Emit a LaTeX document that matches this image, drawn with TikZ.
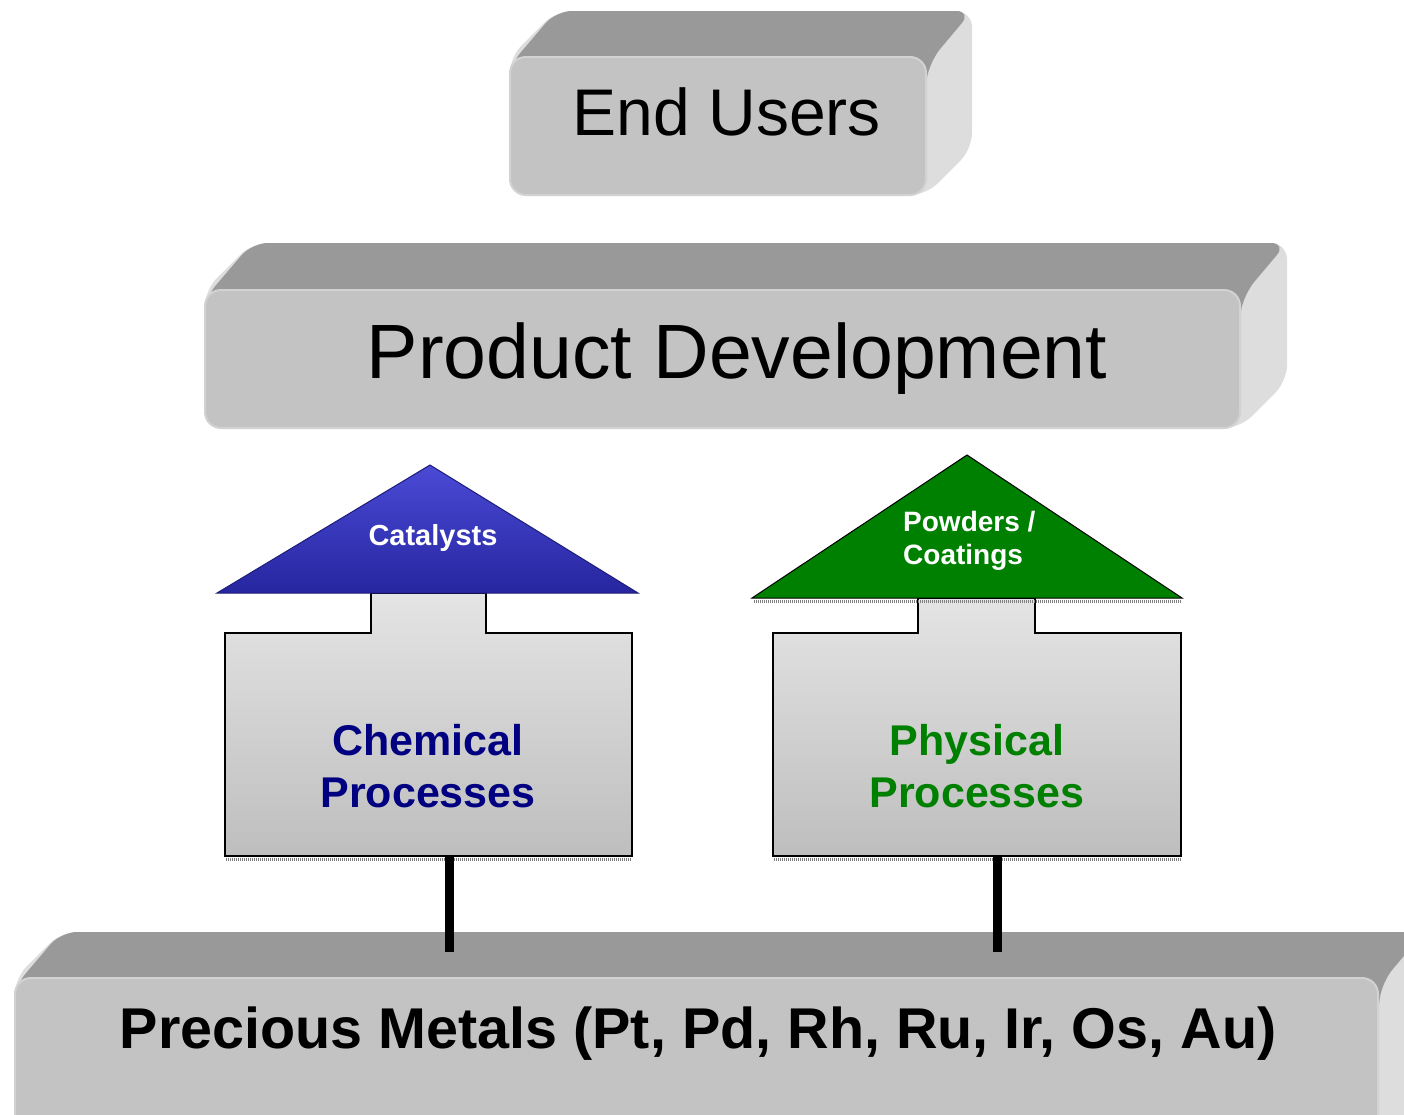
\documentclass[tikz,border=0pt]{standalone}
\usepackage{fontspec}
\setmainfont{Liberation Sans}
\usepackage{tikz}
\usetikzlibrary{calc}

\definecolor{slabtop}{HTML}{999999}
\definecolor{slabside}{HTML}{DDDDDD}
\definecolor{slabfront}{HTML}{C3C3C3}
\definecolor{slabedge}{HTML}{D2D2D2}
\definecolor{boxtop}{HTML}{E4E4E4}
\definecolor{boxbot}{HTML}{BEBEBE}
\definecolor{navyblue}{HTML}{000080}
\definecolor{leafgreen}{HTML}{008000}
\definecolor{roofblue}{HTML}{2626A0}
\definecolor{roofhigh}{HTML}{4A4AD6}
\definecolor{roofedge}{HTML}{1C1C78}

\newcommand{\slab}[5]{%
\fill[slabside,rounded corners=16] (#1,#2) -- ({#1+#5},{#2-#5}) -- ({#3+#5},{#2-#5}) -- ({#3+#5},{#4-#5}) -- (#3,#4) -- (#1,#4) -- cycle;
\fill[slabtop,rounded corners=16] (#1,#4) -- (#1,{#2+8}) -- ({#1+#5},{#2-#5}) -- ({#3+#5},{#2-#5}) -- ({#3+4},{#2+4}) -- ({#3-20},#4) -- cycle;
\filldraw[fill=slabfront,draw=slabedge,line width=2,rounded corners=16] (#1,#2) rectangle (#3,#4);
}

\begin{document}
\begin{tikzpicture}[x=1pt,y=-1pt,
  lab/.style={inner sep=0pt,anchor=base},
  twolines/.style={inner sep=0pt,align=center,font=\bfseries\fontsize{43}{52}\selectfont},
  procbox/.style={draw=black,line width=2,top color=boxtop,bottom color=boxbot},
  hatch/.style={line width=3,draw=gray,dash pattern=on 1pt off 1pt},
  link/.style={line width=9,draw=black}]
\useasboundingbox (0,0) rectangle (1404,1114);
\clip (0,0) rectangle (1404,1114);
\slab{510}{57}{926}{195}{46}
\slab{205}{290}{1240}{428}{47}
\slab{15}{978}{1378}{1160}{46}
\node[lab,font=\fontsize{66}{78}\selectfont] (users) at (727,135) {End Users};
\node[lab,font=\fontsize{77}{90}\selectfont] (devel) at (737,378) {Product Development};
\node[lab,font=\bfseries\fontsize{57.5}{70}\selectfont] (metals) at (698,1048) {Precious Metals (Pt, Pd, Rh, Ru, Ir, Os, Au)};
\shade[procbox] (225,633) -- (371,633) -- (371,593) -- (486,593) -- (486,633) -- (632,633) -- (632,856) -- (225,856) -- cycle;
\shade[procbox] (773,633) -- (918,633) -- (918,598) -- (1035,598) -- (1035,633) -- (1181,633) -- (1181,856) -- (773,856) -- cycle;
\draw[hatch] (226,859) -- (632,859);
\draw[hatch] (774,859) -- (1181,859);
\draw[hatch] (754,601) -- (1181,601);
\shade[top color=roofhigh,bottom color=roofblue,draw=roofedge,line width=1] (217,593) -- (430,465) -- (638,593) -- cycle;
\filldraw[fill=leafgreen,draw=black,line width=1] (752,598) -- (967,455) -- (1182,598) -- cycle;
\node[lab,text=white,font=\bfseries\fontsize{29}{33}\selectfont] (cat) at (433,545) {Catalysts};
\node[inner sep=0pt,anchor=west,align=left,text=white,font=\bfseries\fontsize{28}{33}\selectfont] (powd) at (903,541) {Powders /\\Coatings};
\node[twolines,text=navyblue] (chem) at (428,766) {Chemical\\Processes};
\node[twolines,text=leafgreen] (phys) at (977,766) {Physical\\Processes};
\coordinate (chemfoot) at (449,857);
\coordinate (physfoot) at (997,857);
\coordinate (metalA) at (449,952);
\coordinate (metalB) at (997,952);
\draw[link] (chemfoot) -- (metalA);
\draw[link] (physfoot) -- (metalB);
\end{tikzpicture}
\end{document}
